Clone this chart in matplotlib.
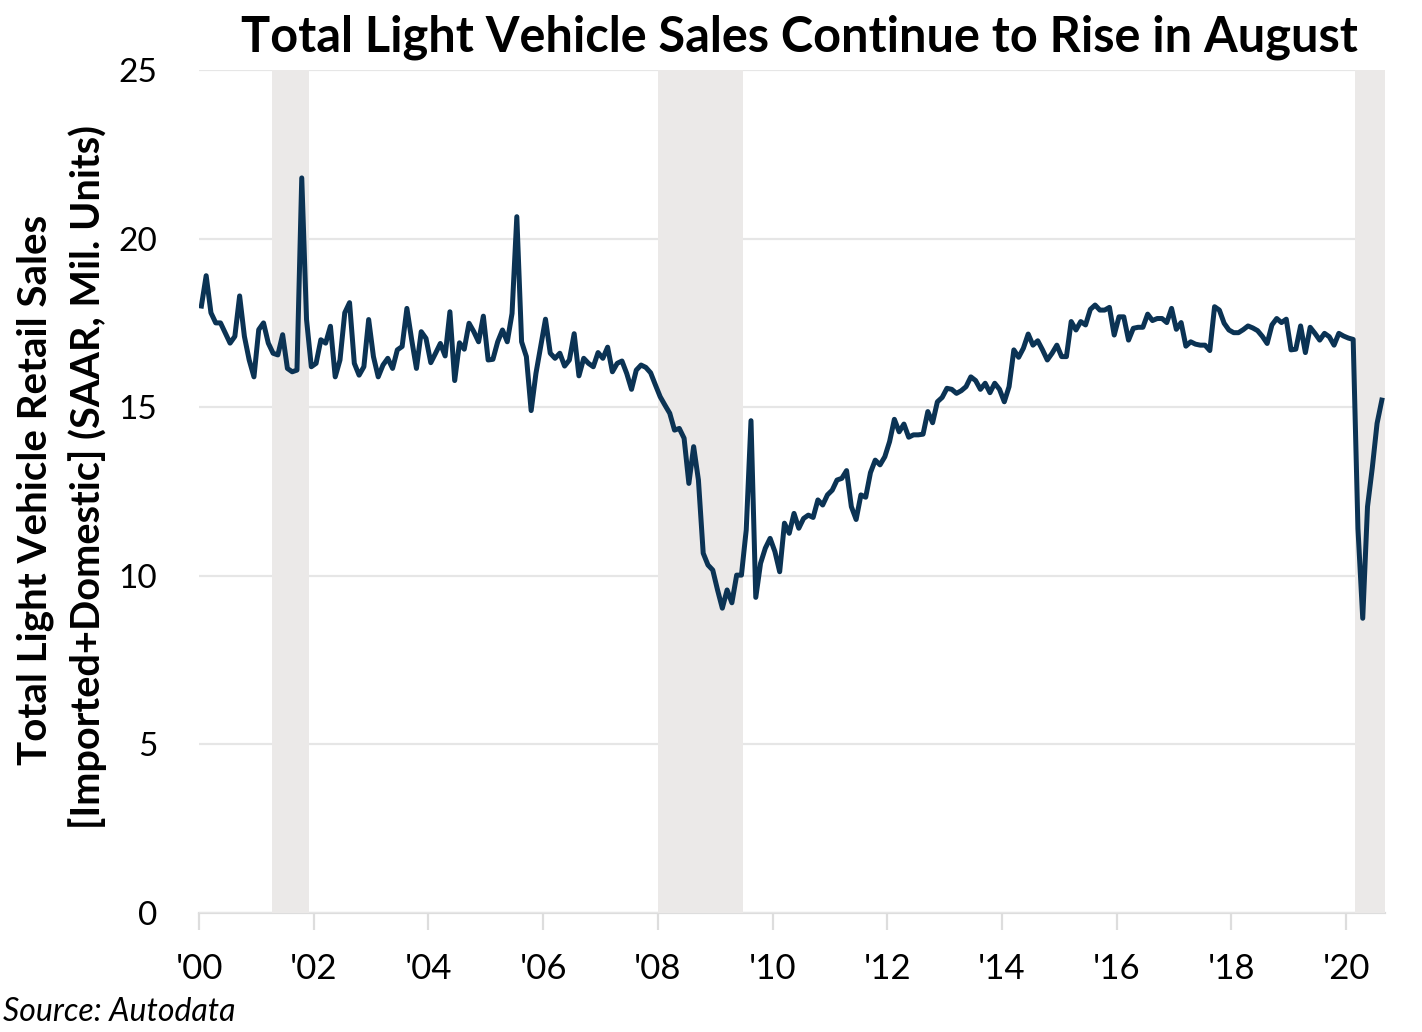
import numpy as np
import matplotlib
matplotlib.use("Agg")
import matplotlib.pyplot as plt

plt.rcParams['font.family'] = ['Lato', 'DejaVu Sans']

# Monthly SAAR, Jan 2000 .. Aug 2020 (millions of units)
sales = [
    # 2000
    18.0, 18.9, 17.8, 17.5, 17.5, 17.2, 16.9, 17.1, 18.3, 17.1, 16.4, 15.9,
    # 2001
    17.3, 17.5, 16.9, 16.6, 16.55, 17.15, 16.15, 16.05, 16.1, 21.8, 17.6, 16.2,
    # 2002
    16.3, 17.0, 16.9, 17.4, 15.9, 16.4, 17.8, 18.1, 16.3, 15.95, 16.2, 17.6,
    # 2003
    16.5, 15.9, 16.25, 16.45, 16.15, 16.7, 16.8, 17.93, 17.0, 16.15, 17.24, 17.04,
    # 2004
    16.32, 16.6, 16.89, 16.52, 17.83, 15.79, 16.91, 16.72, 17.49, 17.24, 16.94, 17.7,
    # 2005
    16.4, 16.42, 16.94, 17.29, 16.94, 17.78, 20.65, 16.94, 16.5, 14.9, 16.0, 16.8,
    # 2006
    17.61, 16.6, 16.45, 16.6, 16.22, 16.4, 17.18, 15.93, 16.45, 16.3, 16.2, 16.62,
    # 2007
    16.45, 16.78, 16.05, 16.3, 16.37, 16.0, 15.53, 16.1, 16.25, 16.18, 16.02, 15.66,
    # 2008
    15.31, 15.06, 14.82, 14.32, 14.37, 14.08, 12.74, 13.83, 12.84, 10.67, 10.32, 10.17,
    # 2009
    9.58, 9.04, 9.58, 9.2, 10.02, 10.02, 11.36, 14.6, 9.36, 10.37, 10.82, 11.11,
    # 2010
    10.72, 10.12, 11.56, 11.26, 11.85, 11.41, 11.7, 11.8, 11.73, 12.25, 12.1, 12.4,
    # 2011
    12.54, 12.84, 12.89, 13.12, 12.05, 11.67, 12.4, 12.33, 13.06, 13.43, 13.29, 13.53,
    # 2012
    13.98, 14.64, 14.27, 14.5, 14.11, 14.18, 14.18, 14.2, 14.87, 14.54, 15.16, 15.29,
    # 2013
    15.56, 15.53, 15.41, 15.49, 15.61, 15.9, 15.79, 15.53, 15.71, 15.43, 15.71, 15.53,
    # 2014
    15.16, 15.61, 16.7, 16.48, 16.75, 17.17, 16.84, 16.97, 16.7, 16.4, 16.6, 16.84,
    # 2015
    16.5, 16.5, 17.54, 17.29, 17.54, 17.44, 17.9, 18.03, 17.88, 17.88, 17.96, 17.14,
    # 2016
    17.68, 17.68, 16.99, 17.34, 17.37, 17.37, 17.76, 17.57, 17.63, 17.63, 17.51, 17.93,
    # 2017
    17.31, 17.51, 16.81, 16.94, 16.87, 16.84, 16.84, 16.68, 17.98, 17.88, 17.49, 17.29,
    # 2018
    17.21, 17.21, 17.3, 17.41, 17.35, 17.27, 17.1, 16.89, 17.44, 17.63, 17.51, 17.61,
    # 2019
    16.7, 16.72, 17.41, 16.62, 17.37, 17.19, 16.99, 17.19, 17.09, 16.84, 17.19, 17.11,
    # 2020
    17.05, 17.01, 11.4, 8.74, 12.05, 13.2, 14.52, 15.21,
]
start_year = 2000

# Recession periods (decimal years)
rec_start = [2001.27, 2008.0, 2020.16]
rec_end = [2001.92, 2009.49, 2020.75]

xtick_years = list(range(2000, 2021, 2))
xtick_labels = ["'%02d" % (y % 100) for y in xtick_years]
yticks = [0, 5, 10, 15, 20, 25]

title = "Total Light Vehicle Sales Continue to Rise in August"
ylabel1 = "Total Light Vehicle Retail Sales"
ylabel2 = "[Imported+Domestic] (SAAR, Mil. Units)"
source = "Source: Autodata"

x = start_year + (np.arange(len(sales)) + 0.5) / 12.0

W, H = 1422, 1032
fig = plt.figure(figsize=(W / 100, H / 100), dpi=100)
ax = fig.add_axes([199 / W, 1 - 913 / H, (1385 - 199) / W, (913 - 70) / H])

for s, e in zip(rec_start, rec_end):
    ax.axvspan(s, e, color='#ebe9e8', lw=0, zorder=1)

ax.plot(x, sales, color='#0b3354', lw=3.6, zorder=3, solid_joinstyle='round')

ax.set_xlim(2000, 2020.68)
ax.set_ylim(0, 25)
ax.set_yticks(yticks)
ax.set_yticklabels([str(v) for v in yticks])
ax.set_xticks(xtick_years)
ax.set_xticklabels(xtick_labels)

ax.yaxis.grid(True, color='#e6e6e6', lw=1.6, zorder=0)
ax.set_axisbelow(True)
for sp in ['left', 'right', 'top']:
    ax.spines[sp].set_visible(False)
ax.spines['bottom'].set_color('#dddddd')
ax.spines['bottom'].set_linewidth(1.6)
ax.spines['bottom'].set_zorder(0.5)

ax.tick_params(axis='y', length=0, pad=30, labelsize=24, labelcolor='black')
ax.tick_params(axis='x', direction='out', length=12, width=1.6, color='#dddddd',
               pad=17, labelsize=25, labelcolor='black')

fig.text(799 / W, 1 - 52 / H, title, ha='center', va='baseline',
         fontsize=35, fontweight='bold')
fig.text(35 / W, 1 - 490 / H, ylabel1, rotation=90, ha='center', va='center',
         fontsize=29, fontweight='bold')
fig.text(88 / W, 1 - 477 / H, ylabel2, rotation=90, ha='center', va='center',
         fontsize=28.5, fontweight='bold')
fig.text(3 / W, 1 - 1021 / H, source, ha='left', va='baseline',
         fontsize=23, style='italic')

fig.savefig('out.png', dpi=100)
